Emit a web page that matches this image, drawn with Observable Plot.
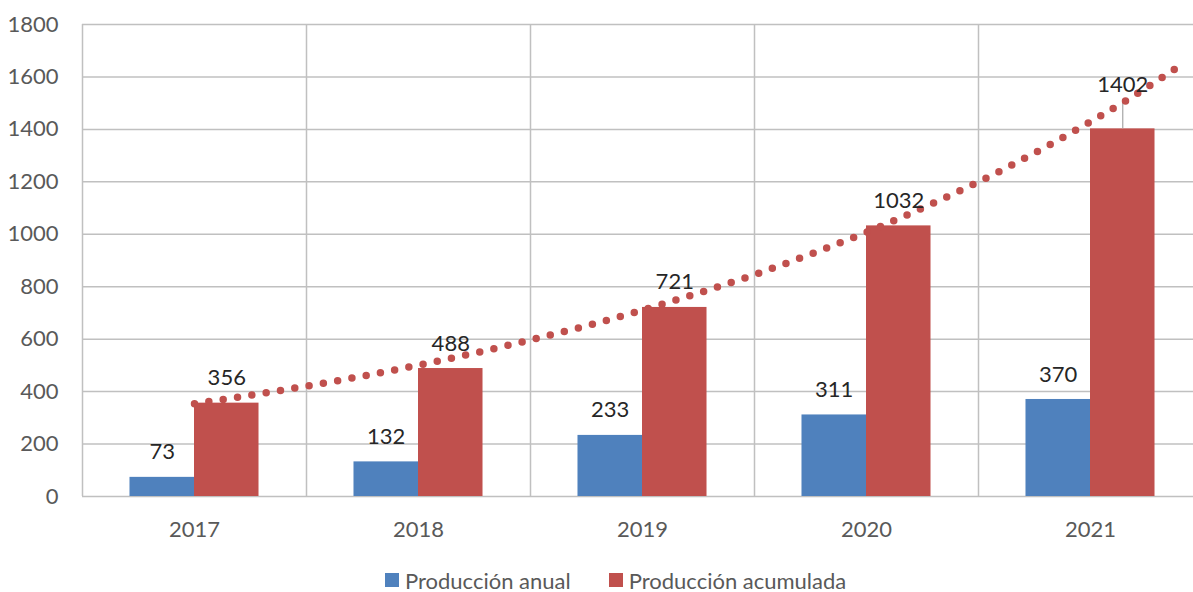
<!DOCTYPE html>
<html>
<head>
<meta charset="utf-8">
<script src="https://cdn.jsdelivr.net/npm/d3@7"></script>
<script src="https://cdn.jsdelivr.net/npm/@observablehq/plot@0.6"></script>
<style>
  html, body { margin: 0; padding: 0; background: #fff; }
  #chart svg { display: block; }
  .legend { height: 60px; display: flex; align-items: center; padding-left: 385px;
            font-family: Lato, "Open Sans", sans-serif; font-size: 22px; color: #595959; }
  .legend .item { display: flex; align-items: center; }
  .legend .sw { width: 14px; height: 14px; margin-right: 6px; }
  .legend .item + .item { margin-left: 38px; }
</style>
</head>
<body>
<div id="chart"></div>
<script>
// ---- data ----
const years = [2017, 2018, 2019, 2020, 2021];
const produccionAnual = [73, 132, 233, 311, 370];
const produccionAcumulada = [356, 488, 721, 1032, 1402];
const yTicks = [0, 200, 400, 600, 800, 1000, 1200, 1400, 1600, 1800];
const seriesNames = ["Producción anual", "Producción acumulada"];
const seriesColors = ["#4f81bd", "#c0504d"];
// trend line (dotted)
const trendX = [2017, 2017.25, 2017.5, 2017.75, 2018, 2018.25, 2018.5, 2018.75, 2019, 2019.25, 2019.5, 2019.75, 2020, 2020.25, 2020.5, 2020.75, 2021, 2021.2, 2021.4];
const trendY = [354, 386, 421, 459, 501, 547, 597, 651, 711, 776, 846, 924, 1008, 1100, 1200, 1310, 1429, 1532, 1643];

// ---- build ----
const rows = years.map((year, i) => ({year, anual: produccionAnual[i], acumulada: produccionAcumulada[i]}));
const trend = trendX.map((x, i) => ({x, y: trendY[i]}));
const gridX = years.map(y => y - 0.5);
const bw = 0.288;
const last = rows.slice(-1);
const notLast = rows.slice(0, -1);

const chart = Plot.plot({
  width: 1193,
  height: 550,
  marginLeft: 82,
  marginRight: -9,
  marginTop: 24,
  marginBottom: 54,
  x: {type: "linear", domain: [2016.5, 2021.5], label: null},
  y: {domain: [0, 1800], label: null},
  style: {fontFamily: "Lato, 'Open Sans', sans-serif", fontSize: "22px", color: "#595959", background: "white", overflow: "hidden"},
  marks: [
    Plot.ruleY(yTicks, {stroke: "#c0c0c0", strokeWidth: 1.5}),
    Plot.ruleX(gridX, {y1: 0, y2: 1800, stroke: "#c0c0c0", strokeWidth: 1.5}),
    Plot.rectY(rows, {x1: d => d.year - bw, x2: d => d.year, y1: 0, y2: "anual", fill: seriesColors[0]}),
    Plot.rectY(rows, {x1: d => d.year, x2: d => d.year + bw, y1: 0, y2: "acumulada", fill: seriesColors[1]}),
    Plot.ruleX(last, {x: d => d.year + bw / 2, y1: "acumulada", y2: d => d.acumulada + 100, stroke: "#a6a6a6", strokeWidth: 1.2}),
    Plot.line(trend, {x: "x", y: "y", stroke: seriesColors[1], strokeWidth: 7.5, strokeDasharray: "0,14.5", strokeLinecap: "round", curve: "natural"}),
    Plot.text(rows, {x: d => d.year - bw / 2, y: "anual", text: d => String(d.anual), dy: -25, fill: "#262626", fontSize: 22}),
    Plot.text(notLast, {x: d => d.year + bw / 2, y: "acumulada", text: d => String(d.acumulada), dy: -25, fill: "#262626", fontSize: 22}),
    Plot.text(last, {x: d => d.year + bw / 2, y: "acumulada", text: d => String(d.acumulada), dy: -44, fill: "#262626", fontSize: 22}),
    Plot.axisY({ticks: yTicks, tickSize: 0, tickPadding: 24, tickFormat: d => String(d), fontSize: 22, fill: "#595959"}),
    Plot.axisX({ticks: years, tickSize: 0, tickPadding: 25, tickFormat: d => String(d), fontSize: 22, fill: "#595959"})
  ]
});
document.getElementById("chart").appendChild(chart);

const legend = document.createElement("div");
legend.className = "legend";
seriesNames.forEach((name, i) => {
  const item = document.createElement("div");
  item.className = "item";
  const sw = document.createElement("span");
  sw.className = "sw";
  sw.style.background = seriesColors[i];
  const label = document.createElement("span");
  label.textContent = name;
  item.appendChild(sw);
  item.appendChild(label);
  legend.appendChild(item);
});
document.getElementById("chart").appendChild(legend);
</script>
</body>
</html>
